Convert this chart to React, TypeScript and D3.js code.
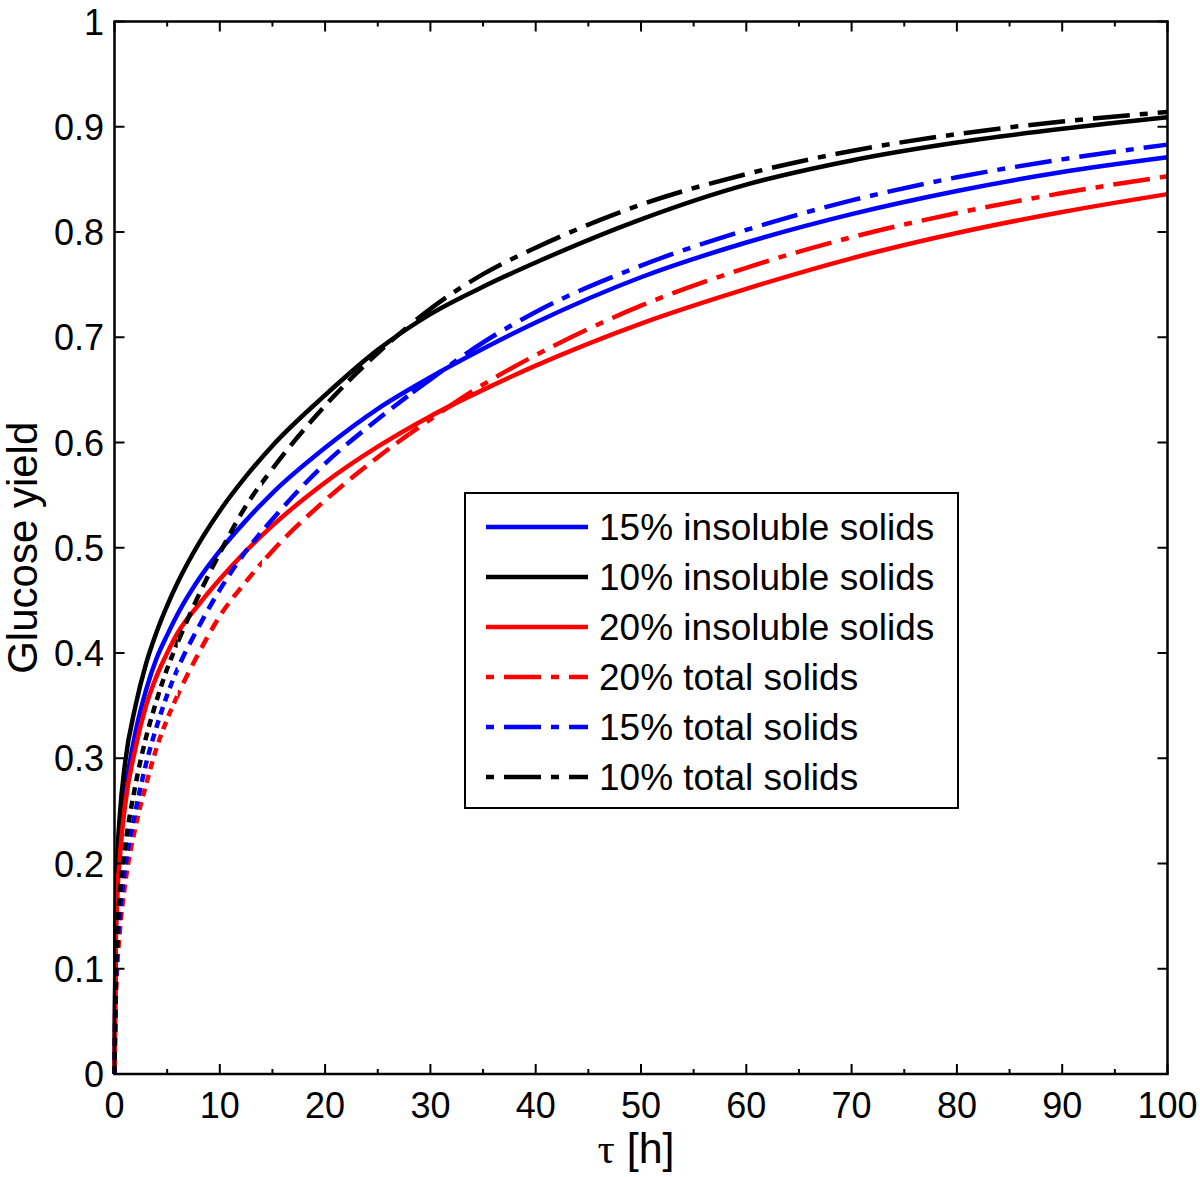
import React from "react";
import * as d3 from "d3";

// ---- data ----
const tau = [0, 0.1, 0.25, 0.5, 1, 2, 3, 4, 5, 6, 8, 10, 12.5, 15, 20, 25, 30, 35, 40, 50, 60, 70, 80, 90, 100];
const insoluble15 = [0, 0.12, 0.175, 0.215, 0.265, 0.325, 0.365, 0.395, 0.417, 0.437, 0.47, 0.497, 0.526, 0.552, 0.595, 0.632, 0.662, 0.689, 0.714, 0.757, 0.79, 0.817, 0.839, 0.857, 0.871];
const insoluble10 = [0, 0.14, 0.2, 0.245, 0.295, 0.35, 0.39, 0.42, 0.445, 0.467, 0.504, 0.535, 0.568, 0.597, 0.645, 0.688, 0.722, 0.748, 0.771, 0.812, 0.845, 0.868, 0.885, 0.898, 0.909];
const insoluble20 = [0, 0.11, 0.165, 0.205, 0.255, 0.31, 0.35, 0.378, 0.4, 0.419, 0.446, 0.47, 0.497, 0.521, 0.562, 0.596, 0.625, 0.65, 0.673, 0.713, 0.746, 0.775, 0.799, 0.819, 0.836];
const total20 = [0, 0.06, 0.1, 0.135, 0.18, 0.235, 0.275, 0.31, 0.337, 0.36, 0.4, 0.435, 0.468, 0.497, 0.545, 0.586, 0.622, 0.655, 0.683, 0.73, 0.766, 0.795, 0.818, 0.837, 0.853];
const total15 = [0, 0.07, 0.115, 0.15, 0.195, 0.25, 0.295, 0.33, 0.36, 0.385, 0.425, 0.46, 0.497, 0.527, 0.58, 0.622, 0.66, 0.695, 0.724, 0.768, 0.802, 0.83, 0.852, 0.869, 0.883];
const total10 = [0, 0.08, 0.13, 0.17, 0.215, 0.275, 0.32, 0.355, 0.385, 0.41, 0.455, 0.495, 0.54, 0.575, 0.635, 0.685, 0.727, 0.76, 0.785, 0.826, 0.855, 0.877, 0.893, 0.905, 0.914];

const seriesNames = [
  "15% insoluble solids",
  "10% insoluble solids",
  "20% insoluble solids",
  "20% total solids",
  "15% total solids",
  "10% total solids",
];
const seriesValues = [insoluble15, insoluble10, insoluble20, total20, total15, total10];
const seriesColors = ["#0000ff", "#000000", "#ff0000", "#ff0000", "#0000ff", "#000000"];
const seriesDashed = [false, false, false, true, true, true];

const xTicks = [0, 10, 20, 30, 40, 50, 60, 70, 80, 90, 100];
const xMinorTicks = [5, 15, 25, 35, 45, 55, 65, 75, 85, 95];
const yTicks = [0, 0.1, 0.2, 0.3, 0.4, 0.5, 0.6, 0.7, 0.8, 0.9, 1];

// dash zones along tau for the dash-dot curves (emulating the original rendering)
const dashZones = [
  { from: 0, to: 6, dash: "8,6" },
  { from: 6, to: 14, dash: "12,8" },
  { from: 14, to: 28, dash: "20,9" },
  { from: 28, to: 100, dash: "37,10,8,10" },
];

const W = 1200;
const H = 1177;
const L = 114.5, R = 1167.5, T = 21.5, B = 1074;
const FONT = "'Liberation Sans', Arial, Helvetica, sans-serif";

export default function App() {
  const x = d3.scaleLinear().domain([0, 100]).range([L, R]);
  const y = d3.scaleLinear().domain([0, 1]).range([B, T]);
  const line = d3
    .line<number>()
    .x((_, i) => x(tau[i]))
    .y((d) => y(d))
    .curve(d3.curveMonotoneX);

  const lw = 4.5;

  return (
    <svg
      width={W}
      height={H}
      style={{ position: "absolute", left: 0, top: 0, background: "#fff" }}
      fontFamily={FONT}
    >
      <rect x={0} y={0} width={W} height={H} fill="#fff" />
      <defs>
        {dashZones.map((z, i) => (
          <clipPath id={`zone${i}`} key={i}>
            <rect
              x={x(z.from) - (i === 0 ? 20 : 0)}
              y={0}
              width={x(z.to) - x(z.from) + (i === 0 ? 20 : 0) + (i === dashZones.length - 1 ? 20 : 0)}
              height={H}
            />
          </clipPath>
        ))}
      </defs>

      {/* curves */}
      {seriesValues.map((vals, si) =>
        seriesDashed[si] ? (
          <g key={si}>
            {dashZones.map((z, zi) => (
              <path
                key={zi}
                d={line(vals) || ""}
                fill="none"
                stroke={seriesColors[si]}
                strokeWidth={lw}
                strokeDasharray={z.dash}
                clipPath={`url(#zone${zi})`}
              />
            ))}
          </g>
        ) : (
          <path key={si} d={line(vals) || ""} fill="none" stroke={seriesColors[si]} strokeWidth={lw} />
        )
      )}

      {/* axes box */}
      <rect x={L} y={T} width={R - L} height={B - T} fill="none" stroke="#000" strokeWidth={2.5} />

      {/* x ticks */}
      {xTicks.map((t) => (
        <g key={`xt${t}`}>
          <line x1={x(t)} x2={x(t)} y1={B} y2={B - 10} stroke="#000" strokeWidth={2} />
          <line x1={x(t)} x2={x(t)} y1={T} y2={T + 10} stroke="#000" strokeWidth={2} />
          <text x={x(t)} y={1118} textAnchor="middle" fontSize={36} fill="#000">
            {t}
          </text>
        </g>
      ))}
      {xMinorTicks.map((t) => (
        <g key={`xm${t}`}>
          <line x1={x(t)} x2={x(t)} y1={B} y2={B - 5} stroke="#000" strokeWidth={2} />
          <line x1={x(t)} x2={x(t)} y1={T} y2={T + 5} stroke="#000" strokeWidth={2} />
        </g>
      ))}

      {/* y ticks */}
      {yTicks.map((t) => (
        <g key={`yt${t}`}>
          <line x1={L} x2={L + 10} y1={y(t)} y2={y(t)} stroke="#000" strokeWidth={2} />
          <line x1={R} x2={R - 10} y1={y(t)} y2={y(t)} stroke="#000" strokeWidth={2} />
          <text x={104} y={y(t) + 13} textAnchor="end" fontSize={36} fill="#000">
            {t === 0 || t === 1 ? String(t) : t.toFixed(1)}
          </text>
        </g>
      ))}

      {/* axis labels */}
      <text transform={`translate(37, ${(T + B) / 2}) rotate(-90)`} textAnchor="middle" fontSize={42} fill="#000">
        Glucose yield
      </text>
      <text x={636} y={1163} textAnchor="middle" fontSize={43} fill="#000">
        <tspan fontFamily="'Liberation Serif', 'DejaVu Serif', serif">τ</tspan>
        <tspan> [h]</tspan>
      </text>

      {/* legend */}
      <g>
        <rect x={465} y={493} width={493} height={315} fill="#fff" stroke="#000" strokeWidth={2} />
        {seriesNames.map((name, i) => {
          const cy = 527 + i * 50;
          return (
            <g key={name}>
              <line
                x1={486}
                x2={588}
                y1={cy}
                y2={cy}
                stroke={seriesColors[i]}
                strokeWidth={lw}
                strokeDasharray={seriesDashed[i] ? "8,10,37,10" : undefined}
              />
              <text x={599} y={cy + 13} fontSize={37} fill="#000">
                {name}
              </text>
            </g>
          );
        })}
      </g>
    </svg>
  );
}
